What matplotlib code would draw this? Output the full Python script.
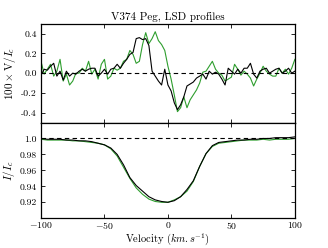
import numpy as np
import matplotlib
matplotlib.use("Agg")
import matplotlib.pyplot as plt

plt.rcParams['font.family'] = 'cmr10'
plt.rcParams['mathtext.fontset'] = 'cm'
plt.rcParams['axes.unicode_minus'] = False

# Stokes V profiles (100 x V/Ic), velocity grid -100..100 step 2.5
vel_v = np.arange(-100, 100.01, 2.5)
v_black = [-0.02, 0.04, 0.03, 0.07, 0.10, -0.03, 0.02, -0.07, 0.02, -0.03,
           0.00, -0.01, 0.02, 0.04, 0.02, 0.04, 0.05, 0.05, -0.03, 0.00,
           0.04, -0.01, 0.04, 0.05, 0.09, 0.05, 0.10,
           0.14, 0.19, 0.21, 0.35, 0.36, 0.34, 0.35, 0.28, 0.02, -0.03,
           -0.08, -0.12, 0.04, -0.12, -0.18, -0.30, -0.37, -0.32, -0.24, -0.13,
           -0.11, -0.09, -0.05, -0.03, -0.01, -0.06, 0.02,
           -0.01, 0.01, -0.01, -0.06, -0.12, 0.05, 0.02, -0.01, 0.04, 0.00,
           0.05, 0.05, 0.10, -0.01, -0.05, 0.02, 0.04, 0.05, 0.00, 0.02,
           0.04, 0.05, 0.00, 0.02, 0.05, 0.00, 0.02]
v_green = [0.12, -0.01, 0.04, 0.09, -0.03, 0.02, 0.14, -0.08, -0.01, -0.12,
           -0.08, 0.00, 0.00, 0.05, 0.02, 0.12, -0.01, 0.04, -0.06, 0.09,
           0.14, -0.06, -0.03, 0.05, 0.03, 0.05, 0.12,
           0.14, 0.23, 0.19, 0.10, 0.12, 0.29, 0.41, 0.30, 0.35, 0.42,
           0.33, 0.29, 0.23, 0.07, -0.06, -0.22, -0.39, -0.35, -0.24, -0.35,
           -0.27, -0.22, -0.17, -0.10, 0.01, 0.02, 0.07,
           0.12, 0.04, 0.00, -0.02, -0.08, -0.06, -0.04, 0.09, 0.04, -0.02,
           0.02, -0.01, -0.05, -0.13, -0.06, 0.00, 0.07, 0.02, -0.01, -0.03,
           -0.03, 0.05, 0.00, 0.04, -0.01, 0.05, 0.14]

# Stokes I profiles (I/Ic), velocity grid -100..100 step 5
vel_i = np.arange(-100, 100.01, 5)
i_black = [1.000, 0.999, 0.999, 0.999, 0.998, 0.998, 0.997, 0.997, 0.996, 0.994,
           0.992, 0.988, 0.980, 0.967, 0.951, 0.941, 0.934, 0.927, 0.923, 0.921,
           0.920, 0.922, 0.927, 0.936, 0.947, 0.965, 0.981, 0.991, 0.995, 0.996,
           0.997, 0.998, 0.998, 0.999, 0.999, 1.000, 1.000, 1.001, 1.001, 1.001,
           1.002]
i_green = [0.999, 0.998, 0.998, 0.998, 0.998, 0.997, 0.997, 0.996, 0.995, 0.994,
           0.992, 0.987, 0.978, 0.964, 0.950, 0.938, 0.930, 0.924, 0.921, 0.920,
           0.920, 0.923, 0.927, 0.934, 0.946, 0.965, 0.981, 0.990, 0.994, 0.995,
           0.996, 0.997, 0.998, 0.998, 0.998, 0.999, 0.998, 0.999, 0.999, 0.999,
           1.000]

green = '#2e9e2e'

fig = plt.figure(figsize=(3.28, 2.48), dpi=100)
ax1 = fig.add_axes([0.125, 0.506, 0.774, 0.398])
ax2 = fig.add_axes([0.125, 0.12, 0.774, 0.386], sharex=ax1)

ax1.plot(vel_v, v_green, color=green, lw=0.8)
ax1.plot(vel_v, v_black, color='k', lw=0.8)
ax1.axhline(0, color='k', ls='--', lw=0.8, dashes=(4, 3))
ax1.set_ylim(-0.5, 0.5)
ax1.set_yticks([-0.4, -0.2, 0.0, 0.2, 0.4])
ax1.set_yticklabels(['-0.4', '-0.2', '0.0', '0.2', '0.4'])
ax1.set_ylabel(r'$100\times\mathrm{V}/I_c$', fontsize=8, labelpad=2)
ax1.set_title('V374 Peg, LSD profiles', fontsize=8, pad=3)
plt.setp(ax1.get_xticklabels(), visible=False)

ax2.plot(vel_i, i_green, color=green, lw=0.8)
ax2.plot(vel_i, i_black, color='k', lw=0.8)
ax2.axhline(1.0, color='k', ls='--', lw=0.8, dashes=(4, 3))
ax2.set_ylim(0.90, 1.02)
ax2.set_yticks([0.92, 0.94, 0.96, 0.98, 1.0])
ax2.set_yticklabels(['0.92', '0.94', '0.96', '0.98', '1.0'])
ax2.set_ylabel(r'$I/I_c$', fontsize=8, labelpad=2)
ax2.set_xlim(-100, 100)
ax2.set_xticks([-100, -50, 0, 50, 100])
ax2.set_xticklabels([r'$-100$', r'$-50$', r'$0$', r'$50$', r'$100$'])

for ax in (ax1, ax2):
    ax.tick_params(direction='in', top=True, right=True, labelsize=7,
                   length=3, width=0.6, pad=3)
    for s in ax.spines.values():
        s.set_linewidth(0.9)
ax2.tick_params(axis='x', pad=1.5)
fig.text(0.512, 0.004, r'Velocity $(km.s^{-1})$', fontsize=7.5,
         ha='center', va='bottom')

fig.savefig('out.png', dpi=100)
